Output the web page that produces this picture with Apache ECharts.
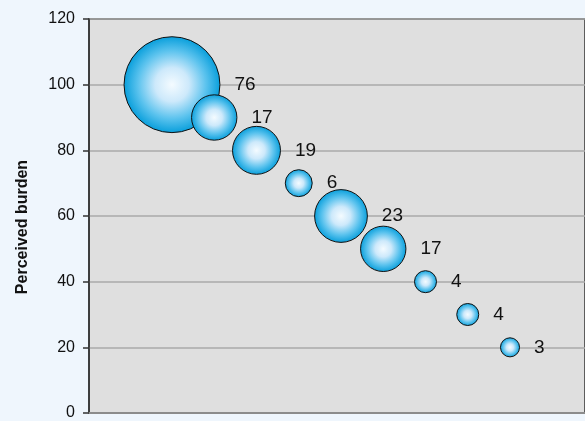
<!DOCTYPE html>
<html>
<head>
<meta charset="utf-8">
<script src="https://cdn.jsdelivr.net/npm/echarts@6/dist/echarts.min.js"></script>
<style>
  html, body { margin: 0; padding: 0; background: #eff6fd; }
  #chart { width: 585px; height: 421px; }
</style>
</head>
<body>
<div id="chart"></div>
<script>
// chart data
var xPos = [1, 2, 3, 4, 5, 6, 7, 8, 9];
var burden = [100, 90, 80, 70, 60, 50, 40, 30, 20];
var bubbleSize = [76, 17, 19, 6, 23, 17, 4, 4, 3];
var yTicks = [0, 20, 40, 60, 80, 100, 120];

var chart = echarts.init(document.getElementById('chart'));

// bubble diameter scales with sqrt of value (area proportional)
var sizeScale = 11.0;

var bubbleFill = new echarts.graphic.RadialGradient(0.5, 0.5, 0.5, [
    { offset: 0, color: '#f4fbff' },
    { offset: 0.35, color: '#cde9fb' },
    { offset: 0.7, color: '#5cc3ee' },
    { offset: 1, color: '#079edb' }
]);

var points = xPos.map(function (x, i) {
    return [x, burden[i], bubbleSize[i]];
});

var option = {
    backgroundColor: '#eff6fd',
    animation: false,
    grid: {
        left: 89, top: 19, right: 0, bottom: 7,
        show: true,
        backgroundColor: '#dfdfdf',
        borderColor: '#333',
        borderWidth: 1.5
    },
    xAxis: {
        type: 'value',
        min: -0.964,
        max: 10.775,
        axisLine: { show: true, onZero: false, lineStyle: { color: '#8c8c8c', width: 2 } },
        axisTick: { show: false },
        axisLabel: { show: false },
        splitLine: { show: false }
    },
    yAxis: {
        type: 'value',
        min: yTicks[0],
        max: yTicks[yTicks.length - 1],
        interval: 20,
        name: 'Perceived burden',
        nameLocation: 'middle',
        nameGap: 58,
        nameTextStyle: {
            fontFamily: 'Liberation Sans, Arial, sans-serif',
            fontWeight: 'bold',
            fontSize: 16,
            color: '#111',
            padding: [0, 22, 0, 0]
        },
        axisLine: { show: true, onZero: false, lineStyle: { color: '#333', width: 1.5 } },
        axisTick: { show: true, length: 6, lineStyle: { color: '#333', width: 1.5 } },
        axisLabel: {
            margin: 14,
            fontFamily: 'Liberation Sans, Arial, sans-serif',
            fontSize: 16,
            color: '#111'
        },
        splitLine: {
            show: true,
            lineStyle: { color: '#aaaaaa', width: 1.5 }
        }
    },
    series: [{
        type: 'scatter',
        data: points,
        symbolSize: function (d) { return sizeScale * Math.sqrt(d[2]); },
        itemStyle: {
            color: bubbleFill,
            borderColor: '#111',
            borderWidth: 1,
            opacity: 1
        },
        label: {
            show: true,
            position: 'right',
            distance: 14,
            formatter: function (p) { return p.data[2]; },
            fontFamily: 'Liberation Sans, Arial, sans-serif',
            fontSize: 19,
            color: '#111'
        },
        emphasis: { disabled: true }
    }]
};

chart.setOption(option);
</script>
</body>
</html>
